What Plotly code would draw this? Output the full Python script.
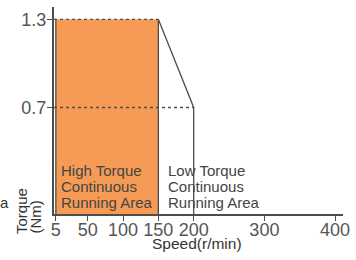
import plotly.graph_objects as go

# ---- data ----
speed_ticks = [5, 50, 100, 150, 200, 300, 400]
torque_ticks = [0.7, 1.3]
torque_tick_labels = ["0.7", "1.3"]

high_speed = [5, 150]          # high torque region speed span
high_torque = 1.3
low_speed_end = 200
low_torque = 0.7

high_label = ["High Torque", "Continuous", "Running Area"]
low_label = ["Low Torque", "Continuous", "Running Area"]
x_title = "Speed(r/min)"
y_title = ["Torque", "(Nm)"]

# ---- layout geometry ----
W, H = 356, 260
L, R, T, B = 54, 13, 7, 46
PW, PH = W - L - R, H - T - B
X_RANGE = [2.4, 411.2]
Y_RANGE = [-0.025, 1.384]

ORANGE = "rgb(245,155,86)"
LINE = "#4d4d4d"
TXT = "#444444"
FONT = "Liberation Sans"


def px(xp):
    return (xp - L) / PW


def py(yp):
    return 1 - (yp - T) / PH


fig = go.Figure()

# orange high torque area
fig.add_trace(go.Scatter(
    x=[high_speed[0], high_speed[1], high_speed[1], high_speed[0], high_speed[0]],
    y=[Y_RANGE[0], Y_RANGE[0], high_torque, high_torque, Y_RANGE[0]],
    fill="toself", fillcolor=ORANGE, line=dict(width=0), mode="lines",
    hoverinfo="skip", showlegend=False))

# solid edges
fig.add_trace(go.Scatter(
    x=[high_speed[0], high_speed[0]], y=[Y_RANGE[0], high_torque],
    mode="lines", line=dict(color=LINE, width=1.3), showlegend=False))
fig.add_trace(go.Scatter(
    x=[high_speed[1], high_speed[1], low_speed_end, low_speed_end],
    y=[Y_RANGE[0], high_torque, low_torque, Y_RANGE[0]],
    mode="lines", line=dict(color=LINE, width=1.3), showlegend=False))

# dotted reference lines
fig.add_trace(go.Scatter(
    x=[X_RANGE[0], high_speed[1]], y=[high_torque, high_torque],
    mode="lines", line=dict(color=LINE, width=1.3, dash="dot"), showlegend=False))
fig.add_trace(go.Scatter(
    x=[X_RANGE[0], low_speed_end], y=[low_torque, low_torque],
    mode="lines", line=dict(color=LINE, width=1.3, dash="dot"), showlegend=False))

annotations = []
line_y = [170.5, 186.3, 202]
for i, t in enumerate(high_label):
    annotations.append(dict(text=t, xref="paper", yref="paper", x=px(59), y=py(line_y[i]),
                            xanchor="left", yanchor="middle", showarrow=False,
                            font=dict(size=15, color=TXT, family=FONT)))
for i, t in enumerate(low_label):
    annotations.append(dict(text=t, xref="paper", yref="paper", x=px(166), y=py(line_y[i]),
                            xanchor="left", yanchor="middle", showarrow=False,
                            font=dict(size=15, color=TXT, family=FONT)))

# x title
annotations.append(dict(text=x_title, xref="paper", yref="paper", x=px(197), y=py(243.5),
                        xanchor="center", yanchor="middle", showarrow=False,
                        font=dict(size=15.5, color="#333333", family=FONT)))
# y title (two rotated lines, bottom aligned)
for xc, t in zip([21, 35], y_title):
    annotations.append(dict(text=t, xref="paper", yref="paper", x=px(xc), y=py(236),
                            xanchor="center", yanchor="bottom", textangle=-90, showarrow=False,
                            font=dict(size=15, color="#333333", family=FONT)))
# clipped stray letter at the far left
annotations.append(dict(text="a", xref="paper", yref="paper", x=px(-2.5), y=py(202),
                        xanchor="left", yanchor="middle", showarrow=False,
                        font=dict(size=15, color="#333333", family=FONT)))

fig.update_layout(
    width=W, height=H,
    margin=dict(l=L, r=R, t=T, b=B, pad=0),
    paper_bgcolor="white", plot_bgcolor="white",
    showlegend=False,
    font=dict(family=FONT),
    annotations=annotations,
    xaxis=dict(range=X_RANGE, tickvals=speed_ticks, showgrid=False, zeroline=False,
               showline=True, linecolor=LINE, linewidth=2,
               ticks="outside", ticklen=5, tickcolor=LINE, tickwidth=1.3,
               ticklabelstandoff=-7,
               tickfont=dict(size=18, color="#555555", family=FONT)),
    yaxis=dict(range=Y_RANGE, tickvals=torque_ticks, ticktext=torque_tick_labels,
               showgrid=False, zeroline=False,
               showline=True, linecolor=LINE, linewidth=2,
               ticks="outside", ticklen=5, tickcolor=LINE, tickwidth=1.3,
               ticklabelstandoff=-3,
               tickfont=dict(size=18, color="#555555", family=FONT)),
)

fig.write_html("out.html", config={"displayModeBar": False},
               post_script="document.body.style.margin='0';")
